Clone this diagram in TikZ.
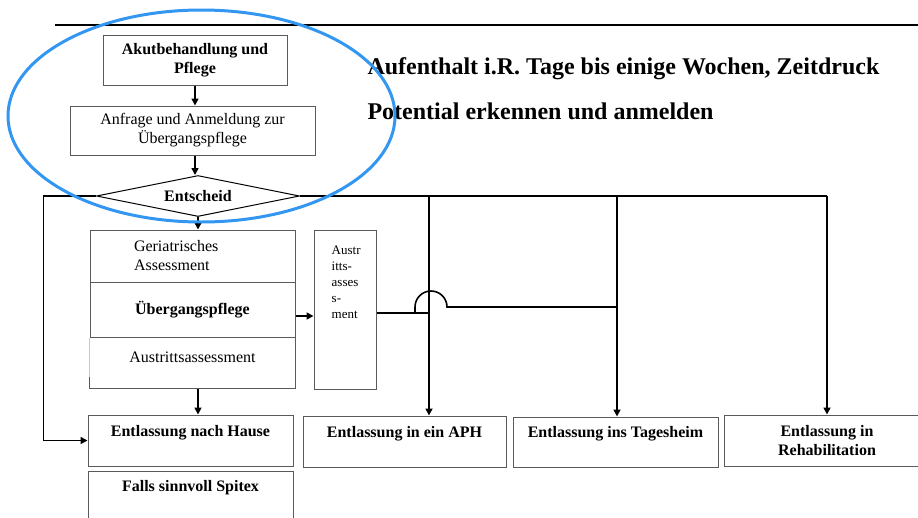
\documentclass[tikz,border=0pt]{standalone}
\usepackage{fontspec}
\setmainfont{Liberation Serif}
\usetikzlibrary{arrows.meta,shapes.geometric}
\definecolor{white}{RGB}{255,255,255}
\definecolor{black}{RGB}{0,0,0}
\definecolor{frame_grey}{RGB}{90,90,90}
\definecolor{light_grey}{RGB}{200,200,200}
\definecolor{mark_blue}{RGB}{51,150,240}

\tikzset{
	box/.style={rectangle,draw=frame_grey,line width=1pt,fill=white,inner sep=2pt,align=center,font=\fontsize{16}{19}\selectfont},
	boldbox/.style={box,font=\fontsize{16}{19}\selectfont\bfseries},
	conn/.style={black,line width=1.6pt},
	arr/.style={conn,-{Triangle[length=7pt,width=7pt]}}
}

\begin{document}
\begin{tikzpicture}[x=1pt,y=-1pt]
	\useasboundingbox (0,0) rectangle (918,517);
	\draw[black,line width=1.6pt] (55,25) -- (918,25);

	\node[boldbox,minimum width=184pt,minimum height=50pt] (akut) at (195,60) {Akutbehandlung und\\Pflege};
	\node[box,minimum width=245pt,minimum height=49pt] (anfrage) at (192.5,130.5) {Anfrage und Anmeldung zur\\Übergangspflege};
	\node[diamond,draw=black,line width=1pt,minimum width=203pt,minimum height=41pt,inner sep=0pt,aspect=5,font=\fontsize{16}{19}\selectfont\bfseries] (entscheid) at (198,196) {Entscheid};

	\node[anchor=west,font=\fontsize{24}{28}\selectfont\bfseries] (aufenthalt) at (364,69) {Aufenthalt i.R. Tage bis einige Wochen, Zeitdruck};
	\node[anchor=west,font=\fontsize{24}{28}\selectfont\bfseries] (potential) at (364,111) {Potential erkennen und anmelden};

	\node[box,minimum width=205pt,minimum height=52pt,text width=117pt,inner xsep=44pt,align=left] (geri) at (192.5,256) {Geriatrisches\\Assessment};
	\node[boldbox,minimum width=205pt,minimum height=56pt] (ueber) at (192.5,310) {Übergangspflege};
	\node[box,draw=none,minimum width=205pt,minimum height=50pt,text height=11pt,text depth=13pt] (austritt) at (192.5,363) {Austrittsassessment};
	\draw[light_grey,line width=1pt] (austritt.north west) -- ([yshift=-39pt]austritt.north west);
	\draw[frame_grey,line width=1pt] ([yshift=-39pt]austritt.north west) |- (austritt.south east) |- (austritt.north west);

	\node[box,minimum width=62pt,minimum height=159pt] (asm) at (345,309.5) {};
	\node[anchor=north west,align=left,inner sep=0pt,font=\fontsize{13}{16}\selectfont] (asmtxt) at ([xshift=18pt,yshift=-16pt]asm.north west) {Austr\\itts-\\asses\\s-\\ment};

	\node[boldbox,minimum width=205pt,minimum height=51pt,text height=11pt,text depth=20pt] (hause) at (190.5,440.5) {Entlassung nach Hause};
	\node[boldbox,minimum width=203pt,minimum height=51pt,text height=11pt,text depth=20pt] (aph) at (404.5,441.5) {Entlassung in ein APH};
	\node[boldbox,minimum width=205pt,minimum height=50pt,text height=11pt,text depth=20pt] (tages) at (615.5,442) {Entlassung ins Tagesheim};
	\node[boldbox,minimum width=205pt,minimum height=51pt] (reha) at (827,440.5) {Entlassung in\\Rehabilitation};
	\node[boldbox,minimum width=205pt,minimum height=60pt,text height=11pt,text depth=31pt] (spitex) at (190.5,501) {Falls sinnvoll Spitex};

	% down the left column
	\draw[arr] (akut.south) -- (akut.south |- anfrage.north);
	\draw[arr] (akut.south |- anfrage.south) -- (akut.south |- entscheid.north);
	\draw[arr] (entscheid.south) -- (entscheid.south |- geri.north);
	\draw[arr] (entscheid.south |- austritt.south) -- (entscheid.south |- hause.north);
	\draw[arr] (entscheid.west) -| ([xshift=-44pt]hause.west) -- (hause.west);
	\draw[arr] ([yshift=-6pt]ueber.east) -- ([yshift=-6pt]ueber.east -| asm.west);

	% branches to the other exits
	\draw[conn] (entscheid.east) -- (827,196);
	\coordinate (japh) at (429,196);
	\coordinate (jtages) at (617,196);
	\coordinate (jreha) at (827,196);
	\foreach \j/\b in {japh/aph,jtages/tages,jreha/reha}
		\draw[arr] (\j) -- (\j |- \b.north);

	\draw[conn] ([yshift=-3.5pt]asm.east) -- (428,313);
	\draw[conn] (415,313) -- (415,307) arc[start angle=180,end angle=0,radius=16pt] -- (jtages |- 0,307);

	\draw[mark_blue,line width=3pt] (201.5,116) ellipse [x radius=193.5pt,y radius=106pt];
\end{tikzpicture}
\end{document}
